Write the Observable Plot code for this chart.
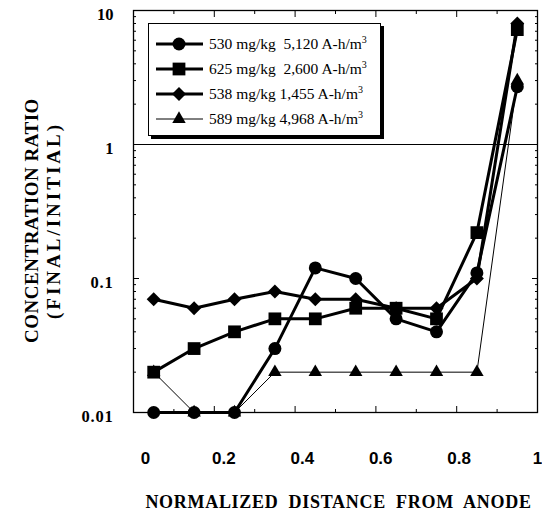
<!DOCTYPE html>
<html>
<head>
<meta charset="utf-8">
<script src="https://cdn.jsdelivr.net/npm/d3@7"></script>
<script src="https://cdn.jsdelivr.net/npm/@observablehq/plot@0.6"></script>
<style>
  html, body { margin: 0; padding: 0; background: white; overflow: hidden; }
  #wrap { position: relative; width: 542px; height: 521px; }
  #legend {
    position: absolute; left: 148px; top: 23px; width: 233px; height: 113px;
    border: 1.5px solid #000; box-shadow: 3px 3px 0 #000; background: white;
    box-sizing: border-box; padding-top: 7px;
    font-family: "Liberation Serif", "Times New Roman", serif; font-size: 15.5px; color: #000;
  }
  .row { display: flex; align-items: center; height: 25px; }
  .row svg { flex: none; margin-left: 6px; margin-right: 5px; }
  .row sup { font-size: 10px; vertical-align: 6px; line-height: 0; }
</style>
</head>
<body>
<div id="wrap"></div>
<script>
// ---- data ----
const distance = [0.05, 0.15, 0.25, 0.35, 0.45, 0.55, 0.65, 0.75, 0.85, 0.95];
const s530 = [0.01, 0.01, 0.01, 0.03, 0.12, 0.10, 0.05, 0.04, 0.11, 2.7];
const s625 = [0.02, 0.03, 0.04, 0.05, 0.05, 0.06, 0.06, 0.05, 0.22, 7.2];
const s538 = [0.07, 0.06, 0.07, 0.08, 0.07, 0.07, 0.06, 0.06, 0.10, 8.0];
const s589 = [0.02, 0.01, 0.01, 0.02, 0.02, 0.02, 0.02, 0.02, 0.02, 3.0];
const seriesLegend = ["530 mg/kg&nbsp; 5,120 A-h/m<sup>3</sup>", "625 mg/kg&nbsp; 2,600 A-h/m<sup>3</sup>", "538 mg/kg 1,455 A-h/m<sup>3</sup>", "589 mg/kg 4,968 A-h/m<sup>3</sup>"];
const xTicks = [0, 0.2, 0.4, 0.6, 0.8, 1];
const xTickLabels = ["0", "0.2", "0.4", "0.6", "0.8", "1"];
const yTicks = [0.01, 0.1, 1, 10];
const yTickLabels = ["0.01", "0.1", "1", "10"];
const xTitle = "NORMALIZED DISTANCE FROM ANODE";
const yTitle1 = "CONCENTRATION RATIO";
const yTitle2 = "(FINAL/INITIAL)";

// ---- styles ----
const symbols = ["circle", "square", "diamond2", "triangle"];
const radii = [6.5, 7.2, 6.3, 5];
const widths = [3, 3, 3, 1];
const allSeries = [s530, s625, s538, s589];

const rows = [];
allSeries.forEach((vals, i) => vals.forEach((v, j) => rows.push({x: distance[j], y: v, s: i})));

const minorX = d3.range(1, 10).map(d => d / 10).filter(d => !xTicks.some(t => Math.abs(t - d) < 1e-9));
const minorY = [];
[0.01, 0.1, 1].forEach(dec => { for (let k = 2; k <= 9; k++) minorY.push(dec * k); });

const serif = "Liberation Serif";
const order = [3, 0, 1, 2];
const seriesMarks = [];
order.forEach(i => {
  const data = rows.filter(r => r.s === i);
  seriesMarks.push(Plot.line(data, {x: "x", y: "y", stroke: "black", strokeWidth: widths[i], strokeLinejoin: "round"}));
});
order.forEach(i => {
  const data = rows.filter(r => r.s === i);
  seriesMarks.push(Plot.dot(data, {x: "x", y: "y", symbol: () => symbols[i], r: radii[i], fill: "black", stroke: "none"}));
});

const tickMarks = [];
for (const anchor of ["bottom", "top"]) {
  tickMarks.push(Plot.axisX({anchor, ticks: xTicks, tickSize: -6, tickFormat: () => "", label: null}));
  tickMarks.push(Plot.axisX({anchor, ticks: minorX, tickSize: -3, tickFormat: () => "", label: null}));
}
for (const anchor of ["left", "right"]) {
  tickMarks.push(Plot.axisY({anchor, ticks: yTicks, tickSize: -6, tickFormat: () => "", label: null}));
  tickMarks.push(Plot.axisY({anchor, ticks: minorY, tickSize: -3, tickFormat: () => "", label: null}));
}

// x tick labels: the original print sits them slightly right of their ticks
const xLabelMarks = xTicks.map((t, i) => Plot.text([t], {
  x: d => d, frameAnchor: "bottom", dy: 51, dx: 12 - 12 * t, text: () => xTickLabels[i],
  fontSize: 17, fontWeight: "bold", fontFamily: "Liberation Sans", fill: "black"
}));

const chart = Plot.plot({
  width: 542,
  height: 521,
  marginLeft: 133,
  marginRight: 5,
  marginTop: 10,
  marginBottom: 109,
  style: {background: "white", overflow: "visible"},
  x: {domain: [0, 1], label: null, axis: null},
  y: {type: "log", domain: [0.01, 10], label: null, axis: null},
  marks: [
    Plot.ruleY([1], {stroke: "black", strokeWidth: 1}),
    ...seriesMarks,
    Plot.frame({stroke: "black", strokeWidth: 1.3}),
    ...tickMarks,
    ...xLabelMarks,
    Plot.text(yTicks, {y: d => d, frameAnchor: "left", textAnchor: "end", dx: -20, dy: 4,
      text: (d, i) => yTickLabels[i],
      fontSize: 16.5, fontWeight: "bold", fontFamily: serif, fill: "black"}),
    Plot.text([xTitle], {frameAnchor: "bottom", text: d => d, dy: 95, dx: 3,
      fontSize: 18, fontWeight: "bold", fontFamily: serif, fill: "black"}),
    Plot.text([yTitle1], {frameAnchor: "left", textAnchor: "middle", text: d => d, rotate: -90, dx: -102, dy: 9,
      fontSize: 19, fontWeight: "bold", fontFamily: serif, fill: "black"}),
    Plot.text([yTitle2], {frameAnchor: "left", textAnchor: "middle", text: d => d, rotate: -90, dx: -80, dy: 9,
      fontSize: 19, fontWeight: "bold", fontFamily: serif, fill: "black"})
  ]
});

// letter / word spacing as in the print
chart.querySelectorAll("text").forEach(t => {
  const s = t.textContent;
  if (s === xTitle) { t.style.letterSpacing = "0.7px"; t.style.wordSpacing = "5px"; }
  if (s === yTitle1) { t.style.letterSpacing = "0.5px"; }
  if (s === yTitle2) { t.style.letterSpacing = "3px"; }
  if (s === "0.01" || s === "0.1") { t.style.letterSpacing = "0.8px"; }
});

const wrap = document.getElementById("wrap");
wrap.appendChild(chart);

// legend overlay
const legend = document.createElement("div");
legend.id = "legend";
const symMap = {circle: d3.symbolCircle, square: d3.symbolSquare, diamond2: d3.symbolDiamond2, triangle: d3.symbolTriangle};
seriesLegend.forEach((html, i) => {
  const row = document.createElement("div");
  row.className = "row";
  const svg = d3.create("svg").attr("width", 49).attr("height", 20);
  svg.append("line").attr("x1", 1).attr("x2", 48).attr("y1", 10).attr("y2", 10)
    .attr("stroke", "black").attr("stroke-width", widths[i]);
  svg.append("path").attr("transform", "translate(24,10)")
    .attr("d", d3.symbol(symMap[symbols[i]], Math.PI * radii[i] * radii[i])())
    .attr("fill", "black");
  row.appendChild(svg.node());
  const span = document.createElement("span");
  span.innerHTML = html;
  row.appendChild(span);
  legend.appendChild(row);
});
wrap.appendChild(legend);
</script>
</body>
</html>
